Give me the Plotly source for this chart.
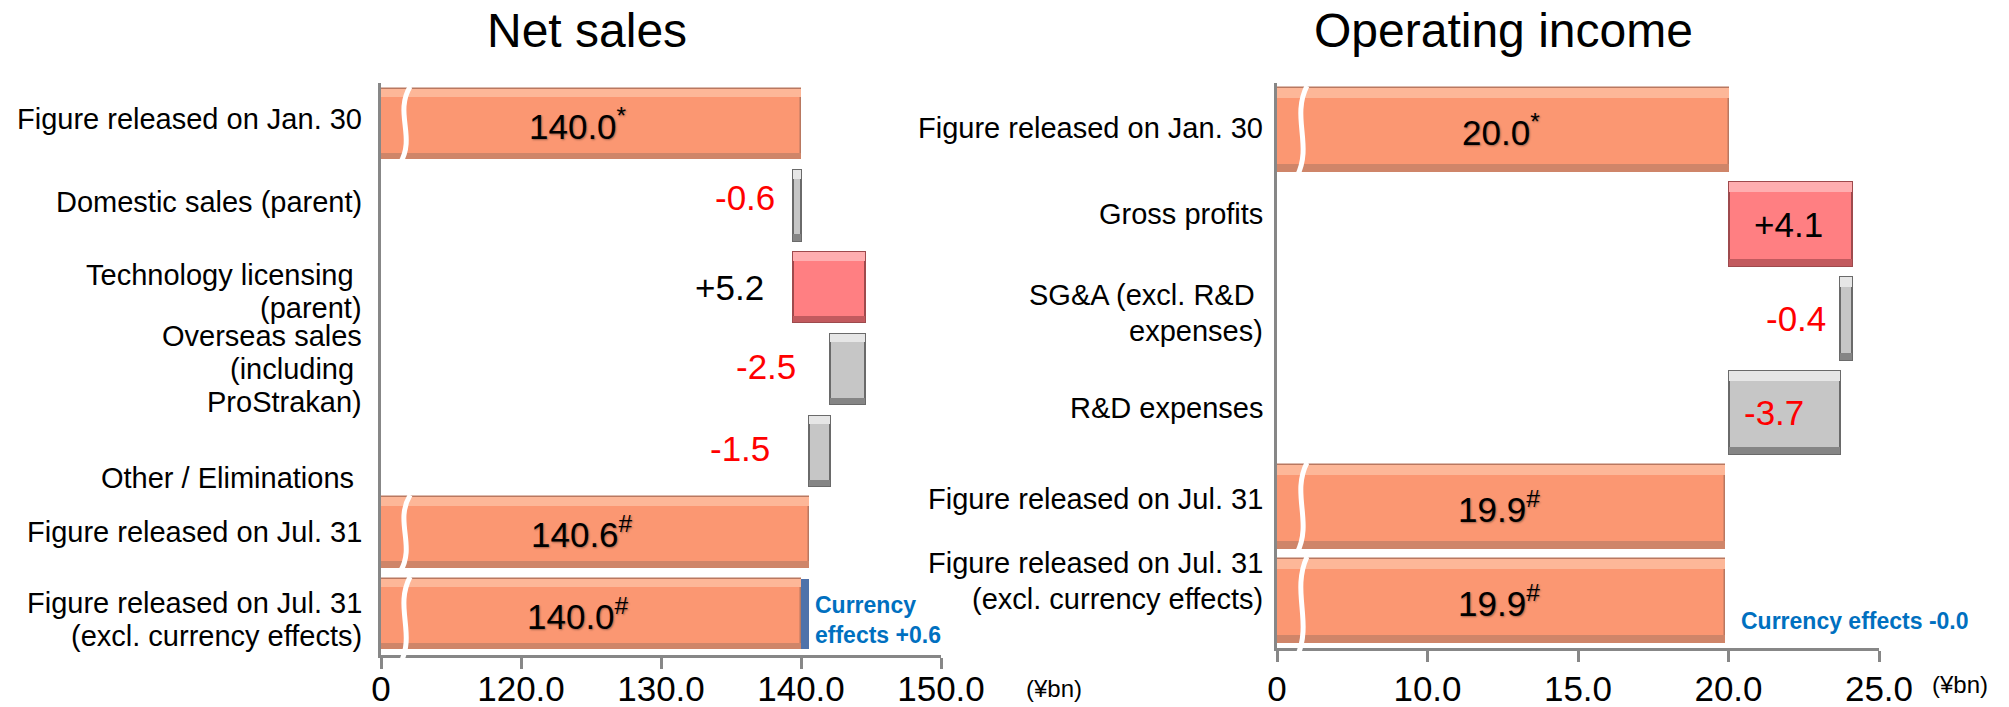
import plotly.graph_objects as go

FONT = "Liberation Sans, Arial, Helvetica, sans-serif"

# ---- Net sales bridge (¥bn) ----
sales_labels = [
    "Figure released on Jan. 30",
    "Domestic sales (parent)",
    "Technology licensing <br>(parent)",
    "Overseas sales<br>(including <br>ProStrakan)",
    "Other / Eliminations ",
    "Figure released on Jul. 31",
    "Figure released on Jul. 31<br>(excl. currency effects)",
]
sales_start = 140.0
sales_deltas = [-0.6, 5.2, -2.5, -1.5]
sales_end = 140.6
sales_excl = 140.0
sales_currency = 0.6
sales_marks = ["*", "#", "#"]
sales_tickvals = [110, 120, 130, 140, 150]
sales_ticktext = ["0", "120.0", "130.0", "140.0", "150.0"]

# ---- Operating income bridge (¥bn) ----
income_labels = [
    "Figure released on Jan. 30",
    "Gross profits",
    "SG&A (excl. R&D <br>expenses)",
    "R&D expenses",
    "Figure released on Jul. 31",
    "Figure released on Jul. 31<br>(excl. currency effects)",
]
income_start = 20.0
income_deltas = [4.1, -0.4, -3.7]
income_end = 19.9
income_excl = 19.9
income_currency = 0.0
income_marks = ["*", "#", "#"]
income_tickvals = [5, 10, 15, 20, 25]
income_ticktext = ["0", "10.0", "15.0", "20.0", "25.0"]

# ---- styling ----
ORANGE, ORANGE_TOP, ORANGE_BOT, ORANGE_LINE = "#FB9772", "#FDB798", "#CF8569", "#B97860"
PINK, PINK_TOP, PINK_BOT, PINK_LINE = "#FF7F82", "#FFAEB0", "#C25A5E", "#9E4A4D"
GREY, GREY_TOP, GREY_BOT, GREY_LINE = "#C6C6C6", "#E6E6E6", "#858585", "#6A6A6A"
BLUE = "#4F72AA"
AXIS = "#878787"
RED = "#FF0000"
CUR_BLUE = "#0070C0"

W, H = 2009, 707

fig = go.Figure()


def wave_path(xc, amp, ytop, ybot):
    h = ytop - ybot
    return (f"M {xc + amp},{ytop} C {xc - 2.2 * amp},{ytop - 0.35 * h} "
            f"{xc + 2.2 * amp},{ytop - 0.65 * h} {xc - amp},{ybot}")


def add_panel(xa, ya, labels, start, deltas, end, excl, currency, marks,
              xstart, bar_w, label_shift, label_xshift, line_gap, total_xshift,
              delta_place, delta_gap, inside_xshift, cur_text, cur_shift,
              wave_x, wave_amp, wave_tail):
    n = len(labels)
    tot_rows = [0, n - 2, n - 1]
    tot_vals = [start, end, excl]
    common = dict(orientation="h", xaxis=xa, yaxis=ya, showlegend=False,
                  hoverinfo="skip")

    # running totals for the bridge steps
    bases, run = [], start
    for d in deltas:
        bases.append(run)
        run += d
    d_rows = list(range(1, 1 + len(deltas)))
    d_fill = [PINK if d > 0 else GREY for d in deltas]
    d_top = [PINK_TOP if d > 0 else GREY_TOP for d in deltas]
    d_bot = [PINK_BOT if d > 0 else GREY_BOT for d in deltas]
    d_line = [PINK_LINE if d > 0 else GREY_LINE for d in deltas]

    top_w, bot_w = bar_w * 0.12, bar_w * 0.09
    # totals
    fig.add_bar(y=tot_rows, x=tot_vals, base=0, width=bar_w,
                marker=dict(color=ORANGE, line=dict(color=ORANGE_LINE, width=1.5)), **common)
    fig.add_bar(y=tot_rows, x=tot_vals, base=0, width=top_w, offset=-bar_w / 2,
                marker=dict(color=ORANGE_TOP, line=dict(width=0)), **common)
    fig.add_bar(y=tot_rows, x=tot_vals, base=0, width=bot_w, offset=bar_w / 2 - bot_w,
                marker=dict(color=ORANGE_BOT, line=dict(width=0)), **common)
    # steps
    fig.add_bar(y=d_rows, x=deltas, base=bases, width=bar_w,
                marker=dict(color=d_fill, line=dict(color=d_line, width=2)), **common)
    fig.add_bar(y=d_rows, x=deltas, base=bases, width=top_w, offset=-bar_w / 2,
                marker=dict(color=d_top, line=dict(width=0)), **common)
    fig.add_bar(y=d_rows, x=deltas, base=bases, width=bot_w, offset=bar_w / 2 - bot_w,
                marker=dict(color=d_bot, line=dict(width=0)), **common)
    # currency effect on the last row
    fig.add_bar(y=[n - 1], x=[currency], base=[excl], width=bar_w,
                marker=dict(color=BLUE, line=dict(width=0)), **common)

    ann = []
    # category labels, one annotation per line for tight line spacing
    for i, (lab, dy) in enumerate(zip(labels, label_shift)):
        lines = lab.split("<br>")
        m = len(lines)
        for k, line in enumerate(lines):
            ann.append(dict(text=line, xref=f"{xa} domain", x=0, xanchor="right",
                            xshift=label_xshift, yref=ya, y=i, yanchor="middle",
                            yshift=dy + ((m - 1) / 2 - k) * line_gap,
                            showarrow=False,
                            font=dict(size=29, color="black", family=FONT)))
    # total values
    for r, v, mk in zip(tot_rows, tot_vals, marks):
        ann.append(dict(text=f"{v:.1f}<sup>{mk}</sup>", xref=xa, x=(xstart + v) / 2,
                        xshift=total_xshift, yref=ya, y=r, showarrow=False,
                        font=dict(size=35, color="black", family=FONT,
                                  shadow="1px 1px 2px rgba(0,0,0,0.35)")))
    # step values
    for r, b, d, place, gap, ix in zip(d_rows, bases, deltas, delta_place,
                                       delta_gap, inside_xshift):
        txt = f"{d:+.1f}"
        col = RED if d < 0 else "black"
        if place == "in":
            ann.append(dict(text=txt, xref=xa, x=b + d / 2, xshift=ix, yref=ya, y=r,
                            showarrow=False, font=dict(size=35, color=col, family=FONT)))
        else:
            ann.append(dict(text=txt, xref=xa, x=min(b, b + d), xanchor="right",
                            xshift=-gap, yref=ya, y=r, yshift=ix, showarrow=False,
                            font=dict(size=35, color=col, family=FONT)))
    # currency effect label
    ann.append(dict(text=cur_text, xref=xa, x=excl + currency, xanchor="left",
                    xshift=cur_shift[0], yref=ya, y=n - 1, yshift=cur_shift[1],
                    align="left", showarrow=False,
                    font=dict(size=23, color=CUR_BLUE, family=FONT, weight="bold")))

    # axis-break waves across the total bars
    shapes = []
    frac = lambda y: (n - 0.5 - y) / n
    for k, r in enumerate(tot_rows):
        ytop = frac(r - bar_w / 2) + 0.004
        ybot = frac(r + bar_w / 2) - 0.008
        if k == len(tot_rows) - 1:
            ybot = wave_tail
        shapes.append(dict(type="path", xref=f"{xa} domain", yref=f"{ya} domain",
                           path=wave_path(wave_x, wave_amp, ytop, ybot),
                           line=dict(color="white", width=5), layer="above"))
    return ann, shapes


ann1, sh1 = add_panel(
    "x", "y", sales_labels, sales_start, sales_deltas, sales_end, sales_excl,
    sales_currency, sales_marks, 110, 0.86,
    label_shift=[5, 4, -4, 0, -27, 0, -5], label_xshift=-17, line_gap=33,
    total_xshift=-13,
    delta_place=["out", "out", "out", "out"], delta_gap=[16, 27, 32, 37],
    inside_xshift=[8, 0, 2, 2],
    cur_text="Currency<br>effects +0.6", cur_shift=(4, -6),
    wave_x=0.043, wave_amp=0.009, wave_tail=-0.016)

ann2, sh2 = add_panel(
    "x2", "y2", income_labels, income_start, income_deltas, income_end, income_excl,
    income_currency, income_marks, 5, 0.89,
    label_shift=[2, 10, 5, 5, 8, 20], label_xshift=-12, line_gap=36,
    total_xshift=-2,
    delta_place=["in", "out", "in"], delta_gap=[0, 12, 0],
    inside_xshift=[-2, 0, -10],
    cur_text="Currency effects -0.0", cur_shift=(14, -20),
    wave_x=0.0415, wave_amp=0.0083, wave_tail=-0.016)

titles = [
    dict(text="Net sales", x=587 / W, y=1 - 31 / H),
    dict(text="Operating income", x=1503 / W, y=1 - 31 / H),
]
units = [
    dict(text="(¥bn)", x=1054 / W, y=1 - 688 / H),
    dict(text="(¥bn)", x=1960 / W, y=1 - 684 / H),
]
extra = []
for t in titles:
    extra.append(dict(t, xref="paper", yref="paper", showarrow=False,
                      xanchor="center", yanchor="middle",
                      font=dict(size=48, color="black", family=FONT)))
for u in units:
    extra.append(dict(u, xref="paper", yref="paper", showarrow=False,
                      xanchor="center", yanchor="middle",
                      font=dict(size=24, color="black", family=FONT)))

xaxis_style = dict(showline=True, linecolor=AXIS, linewidth=3, ticks="outside",
                   ticklen=11, tickwidth=3, tickcolor=AXIS, showgrid=False,
                   zeroline=False, tickfont=dict(size=35, color="black", family=FONT),
                   fixedrange=True, automargin=False)
yaxis_style = dict(showline=True, linecolor=AXIS, linewidth=3, ticks="",
                   showticklabels=False, showgrid=False, zeroline=False,
                   fixedrange=True, automargin=False)

fig.update_layout(
    width=W, height=H, autosize=False,
    margin=dict(l=0, r=0, t=0, b=0, pad=0),
    paper_bgcolor="white", plot_bgcolor="white",
    barmode="overlay", bargap=0,
    font=dict(family=FONT, color="black"),
    xaxis=dict(xaxis_style, domain=[381 / W, 941 / W], range=[110, 150],
               tickvals=sales_tickvals, ticktext=sales_ticktext, anchor="y",
               ticklabelstandoff=-10),
    yaxis=dict(yaxis_style, domain=[1 - 655 / H, 1 - 83 / H],
               range=[len(sales_labels) - 0.5, -0.5], anchor="x"),
    xaxis2=dict(xaxis_style, domain=[1277 / W, 1879 / W], range=[5, 25],
                tickvals=income_tickvals, ticktext=income_ticktext, anchor="y2",
                ticklabelstandoff=-3),
    yaxis2=dict(yaxis_style, domain=[1 - 648 / H, 1 - 83 / H],
                range=[len(income_labels) - 0.5, -0.5], anchor="x2"),
    annotations=ann1 + ann2 + extra,
    shapes=sh1 + sh2,
)

fig.write_html("out.html")
